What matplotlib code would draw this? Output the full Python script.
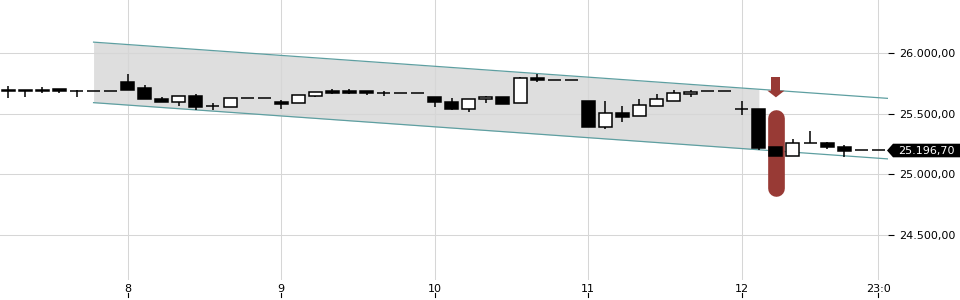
import matplotlib
matplotlib.use("Agg")
import matplotlib.pyplot as plt
import matplotlib.transforms as mtransforms
from matplotlib.patches import Polygon

# candle data (one entry per bar)
opens = [25700, 25698, 25697, 25702, 25691, 25691, 25691, 25760, 25711, 25623,
         25601, 25647, 25566, 25555, 25629, 25629, 25601, 25593, 25650, 25689,
         25689, 25689, 25671, 25670, 25670, 25637, 25596, 25539, 25620, 25637,
         25588, 25795, 25776, 25776, 25607, 25388, 25508, 25478, 25563, 25609,
         25661, 25689, 25689, 25541, 25541, 25229, 25150, 25262, 25262, 25229,
         25197, 25197]
highs = [25730, 25700, 25724, 25707, 25697, 25691, 25691, 25828, 25738, 25637,
         25650, 25664, 25593, 25629, 25629, 25629, 25615, 25656, 25680, 25702,
         25702, 25692, 25686, 25670, 25670, 25637, 25629, 25620, 25647, 25637,
         25806, 25828, 25776, 25776, 25607, 25607, 25566, 25623, 25664, 25697,
         25697, 25689, 25689, 25607, 25541, 25254, 25295, 25355, 25270, 25243,
         25197, 25197]
lows = [25631, 25642, 25672, 25675, 25642, 25691, 25691, 25697, 25625, 25601,
        25566, 25533, 25533, 25555, 25629, 25629, 25539, 25593, 25642, 25661,
        25664, 25658, 25650, 25670, 25670, 25555, 25533, 25511, 25593, 25579,
        25588, 25765, 25776, 25776, 25391, 25377, 25434, 25478, 25563, 25609,
        25642, 25689, 25689, 25492, 25205, 25109, 25150, 25262, 25211, 25142,
        25197, 25197]
closes = [25690, 25685, 25685, 25685, 25690, 25691, 25691, 25697, 25625, 25601,
          25647, 25552, 25563, 25629, 25629, 25629, 25584, 25656, 25678, 25675,
          25675, 25670, 25670, 25670, 25670, 25601, 25539, 25620, 25639, 25584,
          25795, 25779, 25776, 25776, 25391, 25506, 25470, 25571, 25620, 25672,
          25678, 25689, 25689, 25539, 25219, 25150, 25260, 25261, 25224, 25194,
          25197, 25197]

tick_pos = [7, 16, 25, 34, 43, 51]
tick_labels = ["8", "9", "10", "11", "12", "23:0"]
y_ticks = [24500, 25000, 25500, 26000]

# trend channel
channel_idx = [5, 51.6]
channel_upper = [26092, 25627]
channel_lower = [25592, 25127]
shade_end = 44

# signal marker
signal_idx = 45
signal_top = 25537
signal_bottom = 24815
arrow_top = 25802
arrow_base = 25691
arrow_tip = 25636

last_price = 25196.70


def de_fmt(v):
    s = "{:,.2f}".format(v)
    return s.replace(",", "X").replace(".", ",").replace("X", ".")


def chan_at(vals, x):
    # value of a channel line at position x
    return vals[0] + (vals[1] - vals[0]) * (x - channel_idx[0]) / (channel_idx[1] - channel_idx[0])


plt.rcParams['font.family'] = ['DejaVu Sans']
fig = plt.figure(figsize=(9.6, 3), dpi=100)
ax = fig.add_axes([0, 20 / 300, 888 / 960, 280 / 300])
ax.set_xlim(-0.485, 51.57)
ax.set_ylim(24127, 26440)

# channel shading + lines
ax.fill_between([channel_idx[0], shade_end],
                [channel_upper[0], chan_at(channel_upper, shade_end)],
                [channel_lower[0], chan_at(channel_lower, shade_end)],
                color='#dedede', lw=0, zorder=0.5)
ax.plot(channel_idx, channel_upper, color='#5e9fa1', lw=0.9, zorder=1.6)
ax.plot(channel_idx, channel_lower, color='#5e9fa1', lw=0.9, zorder=1.6)

# grid (above the shading, below the candles)
ax.grid(True, color='#d6d6d6', lw=0.75)
ax.set_axisbelow('line')
for s in ax.spines.values():
    s.set_visible(False)

# candles
w = 0.76
for i in range(len(opens)):
    o, h, l, c = opens[i], highs[i], lows[i], closes[i]
    if h != l:
        ax.vlines(i, l, h, color='black', lw=1.1, zorder=2)
    if o == c:
        ax.hlines(o, i - w / 2, i + w / 2, color='black', lw=1.1, zorder=3)
    else:
        fc = 'white' if c > o else 'black'
        ax.bar(i, abs(c - o), bottom=min(o, c), width=w, color=fc,
               edgecolor='black', lw=1.1, zorder=3)

# signal marker (rounded bar + down arrow)
red = '#983a35'
cap = 8.3 * (26440 - 24127) / 280
ax.plot([signal_idx, signal_idx], [signal_top - cap, signal_bottom + cap],
        color=red, lw=12, solid_capstyle='round', zorder=2.5)
ax.bar(signal_idx, arrow_top - arrow_base, bottom=arrow_base, width=0.53,
       color=red, lw=0, zorder=4)
ax.fill([signal_idx - 0.5, signal_idx + 0.5, signal_idx],
        [arrow_base, arrow_base, arrow_tip], color=red, lw=0, zorder=4)

# axes ticks
ax.set_xticks(tick_pos)
ax.set_xticklabels(tick_labels, fontsize=8)
ax.tick_params(axis='x', length=0, pad=3)
trans = mtransforms.blended_transform_factory(ax.transData, ax.transAxes)
for p in tick_pos:
    ax.plot([p, p], [-0.046, -0.061], color='black', lw=0.8,
            transform=trans, clip_on=False)

ax.yaxis.tick_right()
ax.set_yticks(y_ticks)
ax.set_yticklabels([de_fmt(v) for v in y_ticks], fontsize=8)
ax.tick_params(axis='y', length=4, width=0.8, pad=4, color='black')

# last price tag
tt = mtransforms.blended_transform_factory(fig.transFigure, ax.transData)
hh = 6.8 * (26440 - 24127) / 280
tag = Polygon([(887 / 960, last_price), (893 / 960, last_price + hh),
               (1.0, last_price + hh), (1.0, last_price - hh),
               (893 / 960, last_price - hh)],
              closed=True, fc='black', ec='none', transform=tt, clip_on=False)
fig.add_artist(tag)
fig.text(898 / 960, last_price, de_fmt(last_price), color='white',
         fontsize=8, va='center', ha='left', transform=tt)

fig.savefig("out.png", dpi=100)
